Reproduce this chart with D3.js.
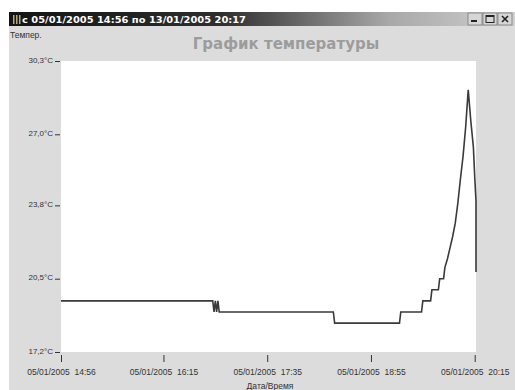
<!DOCTYPE html>
<html>
<head>
<meta charset="utf-8">
<script src="https://cdn.jsdelivr.net/npm/d3@7"></script>
<style>
  html, body { margin: 0; padding: 0; background: #ffffff; }
  svg { display: block; }
</style>
</head>
<body>
<svg id="chart" width="515" height="390"></svg>
<script>
// Logger readings for 05/01/2005 (time of change, temperature in °C)
const sampleDate = "05/01/2005";
const sampleTimes = [
  "14:56", "16:53", "16:54", "16:55", "16:56", "16:57", "16:58",
  "18:26", "18:27", "19:17", "19:18", "19:34", "19:35", "19:41",
  "19:42", "19:47", "19:48", "19:51", "19:52", "19:54", "19:56",
  "19:58", "20:00", "20:02", "20:04", "20:06", "20:08", "20:10",
  "20:12", "20:14", "20:15", "20:16", "20:16"
];
const sampleTemps = [
  19.5, 19.5, 19.0, 19.5, 19.0, 19.5, 19.0,
  19.0, 18.5, 18.5, 19.0, 19.0, 19.5, 19.5,
  20.0, 20.0, 20.5, 20.5, 21.0, 21.4, 21.9,
  22.4, 23.0, 23.9, 25.0, 26.0, 27.3, 29.0,
  27.6, 26.4, 25.1, 24.0, 20.8
];

// Axis ticks
const tempTicks = [17.2, 20.5, 23.8, 27.0, 30.3];
const timeTickLabels = [
  "05/01/2005 14:56", "05/01/2005 16:15", "05/01/2005 17:35",
  "05/01/2005 18:55", "05/01/2005 20:15"
];
const timeStart = "05/01/2005 14:56";
const timeEnd = "05/01/2005 20:16";

// Texts
const windowTitle = "с 05/01/2005 14:56 по 13/01/2005 20:17";
const chartTitle = "График температуры";
const yAxisName = "Темпер.";
const xAxisName = "Дата/Время";

const parse = d3.timeParse("%d/%m/%Y %H:%M");
const data = sampleTimes.map((t, i) => ({ t: parse(sampleDate + " " + t), v: sampleTemps[i] }));

const svg = d3.select("#chart");

// ---- window frame ----
const defs = svg.append("defs");
const grad = defs.append("linearGradient").attr("id", "titleGrad")
  .attr("x1", "0%").attr("x2", "100%").attr("y1", "0%").attr("y2", "0%");
grad.append("stop").attr("offset", "0%").attr("stop-color", "#141414");
grad.append("stop").attr("offset", "42%").attr("stop-color", "#2e2e2e");
grad.append("stop").attr("offset", "75%").attr("stop-color", "#a8a8a8");
grad.append("stop").attr("offset", "100%").attr("stop-color", "#cfcfcf");

svg.append("rect").attr("x", 9).attr("y", 12).attr("width", 506).attr("height", 378)
  .attr("fill", "#dcdcdc");
svg.append("rect").attr("x", 9).attr("y", 12).attr("width", 506).attr("height", 14)
  .attr("fill", "url(#titleGrad)");

// window icon
[13, 16, 19].forEach(x => {
  svg.append("rect").attr("x", x).attr("y", 15).attr("width", 1.5).attr("height", 9)
    .attr("fill", "#b8a878");
});

svg.append("text").attr("x", 22).attr("y", 23)
  .attr("font-family", "DejaVu Sans").attr("font-weight", "bold").attr("font-size", 9)
  .attr("fill", "#ffffff").attr("textLength", 224).attr("lengthAdjust", "spacingAndGlyphs")
  .text(windowTitle);

// caption buttons
const buttons = [{ x: 468, g: "min" }, { x: 483, g: "max" }, { x: 498, g: "close" }];
buttons.forEach(b => {
  svg.append("rect").attr("x", b.x).attr("y", 13).attr("width", 14).attr("height", 12)
    .attr("fill", "#d6d6d6").attr("stroke", "#7a7a7a").attr("stroke-width", 0.8);
  if (b.g === "min") {
    svg.append("rect").attr("x", b.x + 3).attr("y", 20).attr("width", 6).attr("height", 2).attr("fill", "#222");
  } else if (b.g === "max") {
    svg.append("rect").attr("x", b.x + 3).attr("y", 15.5).attr("width", 8).attr("height", 7)
      .attr("fill", "none").attr("stroke", "#222").attr("stroke-width", 1);
    svg.append("rect").attr("x", b.x + 3).attr("y", 15.5).attr("width", 8).attr("height", 1.5).attr("fill", "#222");
  } else {
    svg.append("path").attr("d", `M${b.x + 4},16 L${b.x + 10},22 M${b.x + 10},16 L${b.x + 4},22`)
      .attr("stroke", "#222").attr("stroke-width", 1.6);
  }
});

// ---- chart ----
const plot = { left: 61, right: 476, top: 61, bottom: 352 };

const x = d3.scaleTime()
  .domain([parse(timeStart), parse(timeEnd)])
  .range([plot.left, plot.right]);
const y = d3.scaleLinear()
  .domain([tempTicks[0], tempTicks[tempTicks.length - 1]])
  .range([plot.bottom, plot.top]);

svg.append("rect").attr("x", plot.left).attr("y", plot.top)
  .attr("width", plot.right - plot.left).attr("height", plot.bottom - plot.top)
  .attr("fill", "#ffffff");

svg.append("text").attr("x", 286).attr("y", 49).attr("text-anchor", "middle")
  .attr("font-family", "DejaVu Sans").attr("font-weight", "bold").attr("font-size", 15)
  .attr("fill", "#9c9c9c").text(chartTitle);

svg.append("text").attr("x", 10).attr("y", 38)
  .attr("font-family", "Liberation Sans").attr("font-size", 8.5)
  .attr("fill", "#333").text(yAxisName);

// Y axis: label with an underscore tick on its baseline
const yAxis = d3.axisLeft(y)
  .tickValues(tempTicks)
  .tickSizeInner(5).tickSizeOuter(0).tickPadding(2)
  .tickFormat(d => d3.format(".1f")(d).replace(".", ",") + "°C");
const gy = svg.append("g").attr("transform", `translate(${plot.left - 1},0)`).call(yAxis);
gy.select(".domain").remove();
gy.selectAll(".tick line").attr("stroke", "#333").attr("stroke-width", 1);
gy.selectAll(".tick text").attr("dy", "0").attr("y", 1)
  .attr("font-family", "Liberation Sans").attr("font-size", 8).attr("fill", "#333");

// X axis
const timeTicks = timeTickLabels.map(s => parse(s));
const xAxis = d3.axisBottom(x)
  .tickValues(timeTicks)
  .tickSizeInner(7).tickSizeOuter(0).tickPadding(7)
  .tickFormat((d, i) => timeTickLabels[i].replace(" ", "  "));
const gx = svg.append("g").attr("transform", `translate(0,${plot.bottom + 3})`).call(xAxis);
gx.select(".domain").remove();
gx.selectAll(".tick line").attr("stroke", "#333").attr("stroke-width", 1);
gx.selectAll(".tick text")
  .attr("font-family", "Liberation Sans").attr("font-size", 8.5).attr("fill", "#333")
  .style("white-space", "pre");

svg.append("text").attr("x", 270).attr("y", 389).attr("text-anchor", "middle")
  .attr("font-family", "Liberation Sans").attr("font-size", 8.5)
  .attr("fill", "#333").text(xAxisName);

// temperature trace
const line = d3.line().x(d => x(d.t)).y(d => y(d.v));
svg.append("path").datum(data)
  .attr("d", line)
  .attr("fill", "none")
  .attr("stroke", "#3a3a3a")
  .attr("stroke-width", 1.6)
  .attr("stroke-linejoin", "miter");
</script>
</body>
</html>
